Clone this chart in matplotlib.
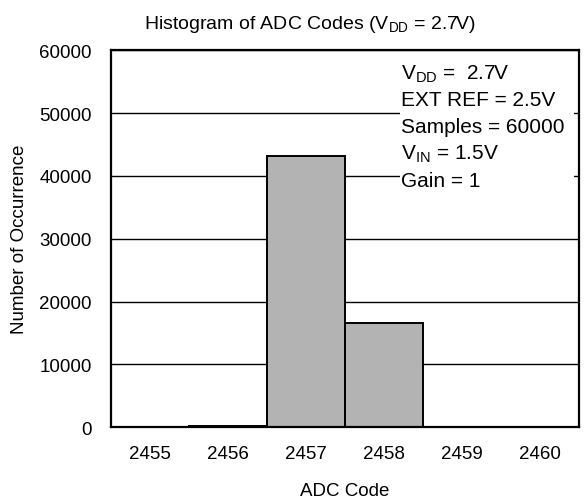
import matplotlib

matplotlib.use("Agg")
import matplotlib.pyplot as plt
from matplotlib.patches import Rectangle

plt.rcParams["font.family"] = ["Liberation Sans", "DejaVu Sans"]
plt.rcParams["mathtext.fontset"] = "custom"
plt.rcParams["mathtext.rm"] = "Liberation Sans"
plt.rcParams["mathtext.it"] = "Liberation Sans"

# histogram of 60000 conversions at VIN = 1.5V
codes = [2455, 2456, 2457, 2458, 2459, 2460]
counts = [0, 200, 43150, 16550, 100, 0]
y_ticks = [0, 10000, 20000, 30000, 40000, 50000, 60000]
info_lines = [
    r"V$_{\mathrm{DD}}$ =  2.7V",
    "EXT REF = 2.5V",
    "Samples = 60000",
    r"V$_{\mathrm{IN}}$ = 1.5V",
    "Gain = 1",
]

fs = 13.5
fig = plt.figure(figsize=(5.85, 5.02), dpi=100)
ax = fig.add_axes([0.19, 0.147, 0.80, 0.751])

ax.bar(codes, counts, width=1.0, color="#b3b3b3", edgecolor="black",
       linewidth=1.4, zorder=3)
ax.set_xlim(codes[0] - 0.5, codes[-1] + 0.5)
ax.set_ylim(y_ticks[0], y_ticks[-1])
ax.set_xticks(codes)
ax.set_xticklabels([str(c) for c in codes])
ax.set_yticks(y_ticks)
ax.tick_params(length=0, labelsize=fs)
ax.tick_params(axis="y", pad=14)
ax.tick_params(axis="x", pad=13)
ax.yaxis.grid(True, color="black", linewidth=1.0, zorder=0)
ax.set_axisbelow(True)
for s in ax.spines.values():
    s.set_linewidth(1.6)
    s.set_zorder(5)

ax.set_xlabel("ADC Code", fontsize=fs, labelpad=14)
ax.set_ylabel("Number of Occurrence", fontsize=fs, labelpad=8)
ax.set_title(r"Histogram of ADC Codes (V$_{\mathrm{DD}}$ = 2.7V)", fontsize=14,
             pad=16, x=0.425)

# white panel behind the test conditions hides the grid lines
ax.add_patch(Rectangle((0.6175, 0.60), 0.372, 0.395, transform=ax.transAxes,
                       facecolor="white", edgecolor="none", zorder=2))
y0 = 0.925
for i, line in enumerate(info_lines):
    ax.text(0.6185, y0 - i * 0.0712, line, transform=ax.transAxes,
            fontsize=15, va="baseline", ha="left", zorder=4)

fig.savefig("out.png")
